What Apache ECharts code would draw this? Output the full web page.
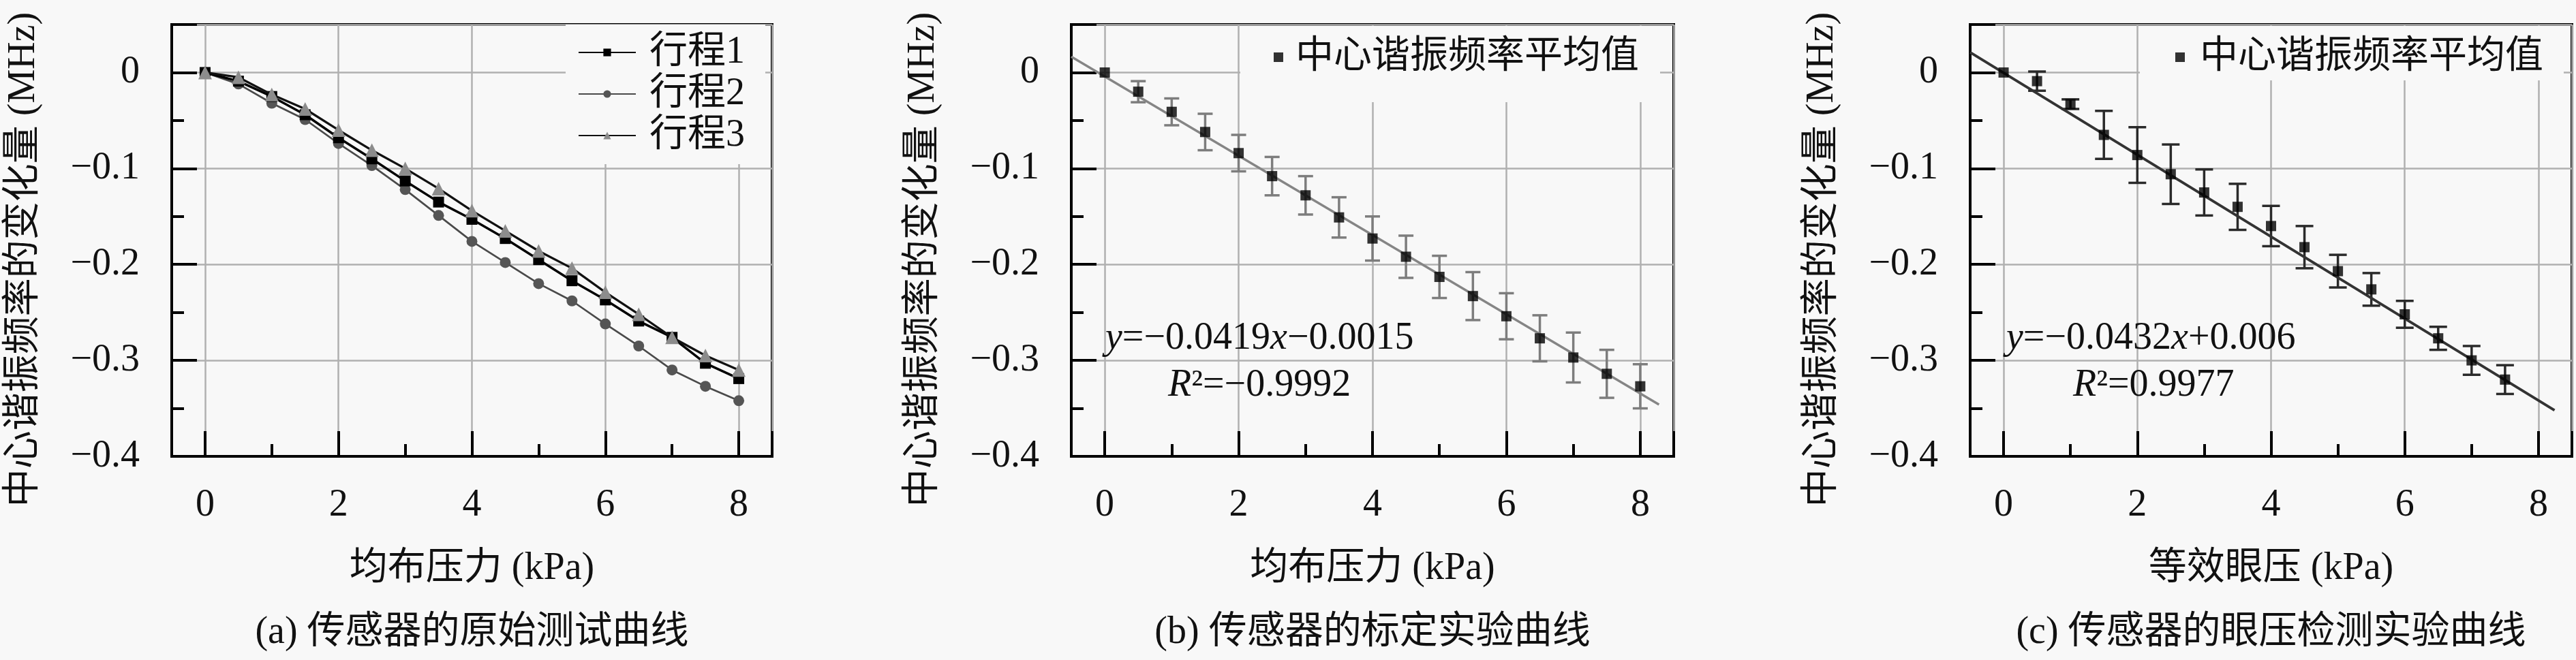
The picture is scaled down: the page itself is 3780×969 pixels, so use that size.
<!DOCTYPE html>
<html>
<head>
<meta charset="utf-8">
<script src="https://cdn.jsdelivr.net/npm/echarts@6/dist/echarts.min.js"></script>
<style>
html,body{margin:0;padding:0;background:#f8f8f8;}
#c{width:3780px;height:969px;}
</style>
</head>
<body>
<div id="c"></div>
<script>
// ---------- data ----------
const xA = [0, 0.5, 1, 1.5, 2, 2.5, 3, 3.5, 4, 4.5, 5, 5.5, 6, 6.5, 7, 7.5, 8];
const trip1 = [0, -0.009, -0.025, -0.044, -0.068, -0.090, -0.113, -0.135, -0.153, -0.173, -0.195, -0.217, -0.237, -0.259, -0.276, -0.303, -0.319];
const trip2 = [0, -0.012, -0.032, -0.049, -0.074, -0.097, -0.122, -0.149, -0.176, -0.198, -0.220, -0.238, -0.262, -0.285, -0.310, -0.327, -0.342];
const trip3 = [0, -0.005, -0.023, -0.038, -0.060, -0.081, -0.100, -0.121, -0.144, -0.165, -0.186, -0.204, -0.229, -0.252, -0.276, -0.295, -0.310];
const tripNames = ['行程1', '行程2', '行程3'];

const xB = [0, 0.5, 1, 1.5, 2, 2.5, 3, 3.5, 4, 4.5, 5, 5.5, 6, 6.5, 7, 7.5, 8];
const meanB = [0, -0.020, -0.041, -0.062, -0.084, -0.108, -0.128, -0.151, -0.173, -0.192, -0.213, -0.233, -0.254, -0.277, -0.297, -0.314, -0.327];
const errB = [0, 0.011, 0.014, 0.019, 0.019, 0.020, 0.020, 0.021, 0.023, 0.022, 0.022, 0.025, 0.024, 0.024, 0.026, 0.025, 0.023];
const fitB = [[-0.5, 0.0165], [8.28, -0.346]];

const xC = [0, 0.5, 1, 1.5, 2, 2.5, 3, 3.5, 4, 4.5, 5, 5.5, 6, 6.5, 7, 7.5];
const meanC = [0, -0.009, -0.033, -0.065, -0.086, -0.106, -0.125, -0.140, -0.160, -0.182, -0.207, -0.226, -0.252, -0.277, -0.300, -0.320];
const errC = [0, 0.010, 0.005, 0.025, 0.029, 0.031, 0.024, 0.024, 0.021, 0.022, 0.017, 0.017, 0.014, 0.012, 0.015, 0.015];
const fitC = [[-0.5, 0.021], [8.24, -0.352]];

const meanName = '中心谐振频率平均值';
const yTitle = '中心谐振频率的变化量 (MHz)';
const xTitles = ['均布压力 (kPa)', '均布压力 (kPa)', '等效眼压 (kPa)'];
const captions = ['(a) 传感器的原始测试曲线', '(b) 传感器的标定实验曲线', '(c) 传感器的眼压检测实验曲线'];
const eqTexts = ['{i|y}=−0.0419{i|x}−0.0015', '{i|y}=−0.0432{i|x}+0.006'];
const r2Texts = ['{i|R}²=−0.9992', '{i|R}²=0.9977'];

// ---------- font choice (serif for Latin, CJK fallback) ----------
function hasFont(name) {
  const ctx = document.createElement('canvas').getContext('2d');
  const probe = 'kPa0123456789Mx';
  ctx.font = '72px monospace';
  const w1 = ctx.measureText(probe).width;
  ctx.font = '72px "' + name + '", monospace';
  const w2 = ctx.measureText(probe).width;
  return Math.abs(w1 - w2) > 0.5;
}
const SERIF = hasFont('Liberation Serif') ? 'Liberation Serif' : (hasFont('DejaVu Serif') ? 'DejaVu Serif' : 'serif');
const FONT = '"' + SERIF + '","Noto Sans CJK SC",serif';
const FS = 56;
const TXT = '#111';
const BG = '#f8f8f8';
const grids = [
  {left: 252, top: 36, width: 881, height: 634},
  {left: 1572, top: 36, width: 884, height: 634},
  {left: 2891, top: 36, width: 883, height: 634}
];

function pairs(xs, ys) { return xs.map((x, i) => [x, ys[i]]); }
function bars(xs, m, e) { return xs.map((x, i) => [x, m[i] - e[i], m[i] + e[i]]); }

function xLabel(v) {
  const r = Math.round(v);
  if (Math.abs(v - r) > 1e-9 || r % 2 !== 0) return '';
  return String(r);
}
function yLabel(v) {
  const t = v * 10;
  if (Math.abs(t - Math.round(t)) > 1e-6) return '';
  if (Math.abs(v) < 1e-9) return '0';
  return (v < 0 ? '−' : '') + Math.abs(v).toFixed(1);
}

const tickStyle = {color: '#000', width: 4};
function makeX(i) {
  return {
    gridIndex: i, type: 'value', min: -0.5, max: 8.5,
    axisLine: {show: true, onZero: false, lineStyle: {color: '#000', width: 4}},
    axisTick: {show: true, inside: true, length: 37, lineStyle: tickStyle},
    minorTick: {show: true, splitNumber: 2, length: 18, lineStyle: tickStyle},
    splitLine: {show: true, lineStyle: {color: '#b0b0b0', width: 2.5}},
    axisLabel: {margin: 44, fontSize: FS, lineHeight: FS, fontFamily: FONT, color: TXT, formatter: xLabel}
  };
}
function makeY(i) {
  return {
    gridIndex: i, type: 'value', min: -0.4, max: 0.05,
    axisLine: {show: true, onZero: false, lineStyle: {color: '#000', width: 4}},
    axisTick: {show: true, inside: true, length: 37, lineStyle: tickStyle},
    minorTick: {show: true, splitNumber: 2, length: 18, lineStyle: tickStyle},
    splitLine: {show: true, lineStyle: {color: '#b0b0b0', width: 2.5}},
    axisLabel: {margin: 47, fontSize: FS, fontFamily: FONT, color: TXT, formatter: yLabel}
  };
}

function errorSeries(i, data, color, half) {
  return {
    type: 'custom', xAxisIndex: i, yAxisIndex: i, z: 2,
    encode: {x: 0, y: [1, 2]},
    data: data,
    silent: true,
    renderItem: function (params, api) {
      const x = api.value(0), lo = api.value(1), hi = api.value(2);
      if (Math.abs(hi - lo) < 1e-9) return null;
      const a = api.coord([x, lo]), b = api.coord([x, hi]);
      const st = {stroke: color, lineWidth: 3.5};
      return {type: 'group', children: [
        {type: 'line', shape: {x1: a[0], y1: a[1], x2: b[0], y2: b[1]}, style: st},
        {type: 'line', shape: {x1: a[0] - half, y1: a[1], x2: a[0] + half, y2: a[1]}, style: st},
        {type: 'line', shape: {x1: b[0] - half, y1: b[1], x2: b[0] + half, y2: b[1]}, style: st}
      ]};
    }
  };
}

const legendText = {fontSize: FS, lineHeight: FS, fontFamily: FONT, color: TXT};

const graphic = [];
const yTitleX = [35, 1355, 2674];
for (let i = 0; i < 3; i++) {
  const g = grids[i];
  graphic.push({type: 'text', x: yTitleX[i], y: 381, rotation: Math.PI / 2, z: 10,
    style: {text: yTitle, fontSize: FS, fontFamily: FONT, fill: TXT, align: 'center', verticalAlign: 'middle'}});
  graphic.push({type: 'text', x: g.left + g.width / 2, y: 835, z: 10,
    style: {text: xTitles[i], fontSize: FS, fontFamily: FONT, fill: TXT, align: 'center', verticalAlign: 'middle'}});
  graphic.push({type: 'text', x: g.left + g.width / 2, y: 929, z: 10,
    style: {text: captions[i], fontSize: FS, fontFamily: FONT, fill: TXT, align: 'center', verticalAlign: 'middle'}});
}
const richI = {i: {fontStyle: 'italic', fontSize: FS, fontFamily: FONT, fill: TXT}};
const eqPos = [[1622, 497], [2944, 497]];
const r2Pos = [[1714, 566], [3042, 566]];
for (let k = 0; k < 2; k++) {
  graphic.push({type: 'text', x: eqPos[k][0], y: eqPos[k][1], z: 10,
    style: {text: eqTexts[k], rich: richI, fontSize: FS, fontFamily: FONT, fill: TXT, align: 'left', verticalAlign: 'middle'}});
  graphic.push({type: 'text', x: r2Pos[k][0], y: r2Pos[k][1], z: 10,
    style: {text: r2Texts[k], rich: richI, fontSize: FS, fontFamily: FONT, fill: TXT, align: 'left', verticalAlign: 'middle'}});
}

const option = {
  backgroundColor: BG,
  animation: false,
  grid: grids.map(g => Object.assign({show: true, borderColor: '#000', borderWidth: 4, backgroundColor: 'transparent', containLabel: false}, g)),
  xAxis: [makeX(0), makeX(1), makeX(2)],
  yAxis: [makeY(0), makeY(1), makeY(2)],
  legend: [
    {left: 830, top: 36, orient: 'vertical', data: tripNames, itemWidth: 84, itemHeight: 14, itemGap: 5,
      padding: [13, 30, 14, 18], backgroundColor: BG, textStyle: Object.assign({padding: [0, 0, 0, 15]}, legendText)},
    {left: 1820, top: 38, orient: 'horizontal', data: [{name: meanName, icon: 'rect'}], itemWidth: 14, itemHeight: 14,
      padding: [18, 31, 38, 49], backgroundColor: BG, textStyle: Object.assign({padding: [0, 0, 0, 13]}, legendText)},
    {left: 3140, top: 38, orient: 'horizontal', data: [{name: meanName, icon: 'rect'}], itemWidth: 14, itemHeight: 14,
      padding: [18, 30, 6, 52], backgroundColor: BG, textStyle: Object.assign({padding: [0, 0, 0, 17]}, legendText)}
  ],
  series: [
    {name: tripNames[1], type: 'line', xAxisIndex: 0, yAxisIndex: 0, data: pairs(xA, trip2),
      symbol: 'circle', symbolSize: 16, lineStyle: {color: '#4a4a4a', width: 2.7}, itemStyle: {color: '#555', borderWidth: 0}, z: 2},
    {name: tripNames[0], type: 'line', xAxisIndex: 0, yAxisIndex: 0, data: pairs(xA, trip1),
      symbol: 'rect', symbolSize: 16, lineStyle: {color: '#000', width: 3.5}, itemStyle: {color: '#000', borderWidth: 0}, z: 3},
    {name: tripNames[2], type: 'line', xAxisIndex: 0, yAxisIndex: 0, data: pairs(xA, trip3),
      symbol: 'triangle', symbolSize: 20, lineStyle: {color: '#111', width: 3.3}, itemStyle: {color: '#8c8c8c', borderWidth: 0}, z: 4},

    errorSeries(1, bars(xB, meanB, errB), '#7d7d7d', 11),
    {name: 'fitB', type: 'line', xAxisIndex: 1, yAxisIndex: 1, data: fitB, symbol: 'none',
      lineStyle: {color: '#858585', width: 3.5}, z: 3, silent: true},
    {name: meanName, type: 'scatter', xAxisIndex: 1, yAxisIndex: 1, data: pairs(xB, meanB),
      symbol: 'rect', symbolSize: 15, itemStyle: {color: '#000'}, z: 4},

    errorSeries(2, bars(xC, meanC, errC), '#2a2a2a', 13),
    {name: 'fitC', type: 'line', xAxisIndex: 2, yAxisIndex: 2, data: fitC, symbol: 'none',
      lineStyle: {color: '#333', width: 4}, z: 3, silent: true},
    {name: meanName, type: 'scatter', xAxisIndex: 2, yAxisIndex: 2, data: pairs(xC, meanC),
      symbol: 'rect', symbolSize: 15, itemStyle: {color: '#000'}, z: 4}
  ],
  graphic: graphic
};

const chart = echarts.init(document.getElementById('c'), null, {renderer: 'canvas'});
chart.setOption(option);
</script>
</body>
</html>
